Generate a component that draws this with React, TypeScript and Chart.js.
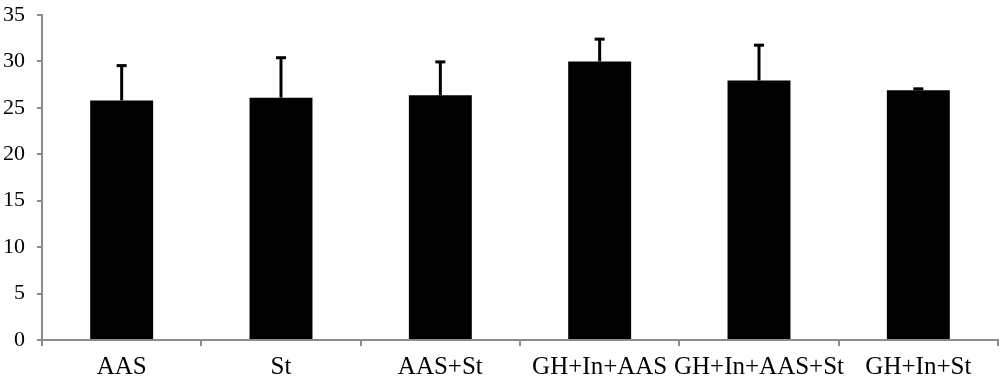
import React, { useEffect, useRef } from "react";
import { Chart, registerables } from "chart.js";

Chart.register(...registerables);

const categories = ["AAS", "St", "AAS+St", "GH+In+AAS", "GH+In+AAS+St", "GH+In+St"];
const means = [25.8, 26.1, 26.35, 30.0, 27.95, 26.9];
const errors = [3.75, 4.3, 3.6, 2.4, 3.8, 0.15];
const yTicks = [0, 5, 10, 15, 20, 25, 30, 35];

const errorBarPlugin = {
  id: "errorBars",
  afterDatasetsDraw(chart: any) {
    const ctx = chart.ctx;
    const meta = chart.getDatasetMeta(0);
    const yScale = chart.scales.y;
    ctx.save();
    ctx.strokeStyle = "#000";
    ctx.fillStyle = "#000";
    meta.data.forEach((bar: any, i: number) => {
      const x = bar.x;
      const yTop = yScale.getPixelForValue(means[i] + errors[i]);
      const yBase = yScale.getPixelForValue(means[i]);
      ctx.lineWidth = 3;
      ctx.beginPath();
      ctx.moveTo(x, yBase);
      ctx.lineTo(x, yTop);
      ctx.stroke();
      ctx.fillRect(x - 5, yTop - 1.5, 10, 3);
    });
    ctx.restore();
  },
};

export default function App() {
  const ref = useRef<HTMLCanvasElement | null>(null);
  useEffect(() => {
    document.body.style.margin = "0";
    const chart = new Chart(ref.current as HTMLCanvasElement, {
      type: "bar",
      data: {
        labels: categories,
        datasets: [
          {
            data: means,
            backgroundColor: "#000",
            borderWidth: 0,
            barPercentage: 0.79,
            categoryPercentage: 0.5,
          },
        ],
      },
      options: {
        animation: false,
        responsive: false,
        maintainAspectRatio: false,
        layout: { padding: { top: 15, right: 2, left: 0, bottom: 0 } },
        plugins: { legend: { display: false }, tooltip: { enabled: false } },
        scales: {
          x: {
            grid: {
              display: true,
              drawOnChartArea: false,
              drawTicks: true,
              tickLength: 6,
              color: "#8c8c8c",
              lineWidth: 2,
              offset: true,
            },
            border: { display: true, color: "#8c8c8c", width: 2 },
            ticks: {
              color: "#000",
              font: { family: "Liberation Serif", size: 25 },
              padding: 6,
              maxRotation: 0,
              autoSkip: false,
            },
            afterFit(scale: any) {
              scale.height = 42;
              scale.paddingLeft = 0;
              scale.paddingRight = 0;
            },
          },
          y: {
            min: 0,
            max: 35,
            afterBuildTicks(scale: any) {
              scale.ticks = yTicks.map((v) => ({ value: v }));
            },
            grid: {
              display: true,
              drawOnChartArea: false,
              drawTicks: true,
              tickLength: 5,
              color: "#8c8c8c",
              lineWidth: 2,
            },
            border: { display: true, color: "#8c8c8c", width: 2 },
            ticks: {
              color: "#000",
              font: { family: "Liberation Serif", size: 22 },
              padding: 12,
            },
            afterFit(scale: any) {
              scale.width = 42;
              scale.paddingTop = 0;
              scale.paddingBottom = 0;
            },
          },
        },
      },
      plugins: [errorBarPlugin],
    });
    return () => chart.destroy();
  }, []);
  return (
    <div style={{ width: 1000, height: 382 }}>
      <canvas ref={ref} width={1000} height={382} style={{ display: "block" }} />
    </div>
  );
}
